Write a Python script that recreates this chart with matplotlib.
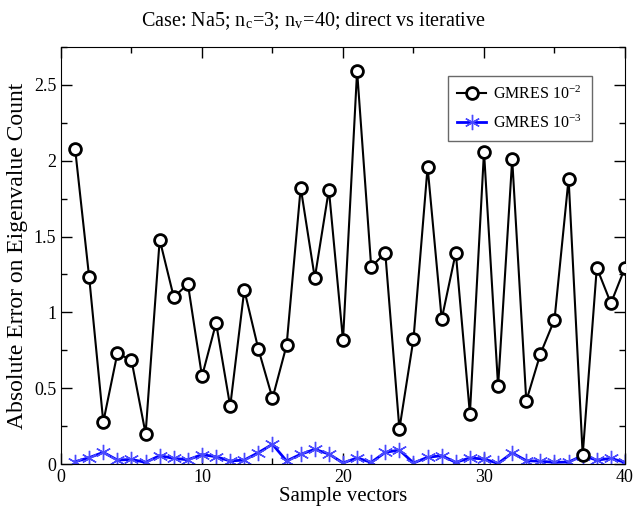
import matplotlib
matplotlib.use("Agg")
import matplotlib.pyplot as plt
from matplotlib.ticker import MultipleLocator

plt.rcParams['font.family'] = ['Liberation Serif', 'DejaVu Serif']
plt.rcParams['mathtext.fontset'] = 'stix'

x = list(range(1, 41))
gmres_1e2 = [2.08, 1.23, 0.277, 0.73, 0.684, 0.20, 1.48, 1.10, 1.187, 0.578,
             0.93, 0.38, 1.148, 0.757, 0.433, 0.783, 1.823, 1.227, 1.81, 0.816,
             2.592, 1.30, 1.392, 0.231, 0.825, 1.959, 0.956, 1.394, 0.33, 2.06,
             0.512, 2.01, 0.416, 0.726, 0.952, 1.882, 0.06, 1.295, 1.06, 1.295]
gmres_1e3 = [0.015, 0.042, 0.077, 0.026, 0.03, 0.011, 0.055, 0.037, 0.028, 0.062,
             0.048, 0.02, 0.026, 0.075, 0.13, 0.02, 0.064, 0.097, 0.066, 0.007,
             0.04, 0.011, 0.077, 0.092, 0.007, 0.044, 0.055, 0.011, 0.04, 0.033,
             0.004, 0.073, 0.022, 0.018, 0.011, 0.013, 0.055, 0.026, 0.037, 0.011]

fig = plt.figure(figsize=(6.34, 5.08), dpi=100)
ax = fig.add_axes([0.0962, 0.0866, 0.8896, 0.8209])

ax.plot(x, gmres_1e2, color='black', lw=1.5, marker='o', ms=8.5,
        mfc='white', mec='black', mew=2, label=r'GMRES 10$^{\mathregular{-2}}$', zorder=3)
ax.plot(x, gmres_1e3, color='#0000ff', lw=2, marker=(6, 2, 0), ms=11,
        mec='#4a4aff', mew=1, label=r'GMRES 10$^{\mathregular{-3}}$', zorder=2)

ax.set_xlim(0, 40)
ax.set_ylim(0, 2.75)
ax.xaxis.set_major_locator(MultipleLocator(10))
ax.xaxis.set_minor_locator(MultipleLocator(5))
ax.yaxis.set_minor_locator(MultipleLocator(0.25))
ax.set_yticks([0, 0.5, 1, 1.5, 2, 2.5])
ax.set_yticklabels(['0', '0.5', '1', '1.5', '2', '2.5'])
ax.tick_params(which='both', direction='in', top=True, right=True, labelsize=13)
ax.tick_params(which='major', length=8, width=1)
ax.tick_params(which='minor', length=4, width=1)

ax.set_xlabel('Sample vectors', fontsize=15, labelpad=1)
ax.set_ylabel('Absolute Error on Eigenvalue Count', fontsize=17, labelpad=4)
fig.text(0.494, 0.949, r'Case: Na5; n$_{\mathregular{c}}$=3; n$_{\mathregular{v}}$=40; direct vs iterative',
         fontsize=14.5, ha='center', va='baseline')

leg = ax.legend(loc='upper right', bbox_to_anchor=(0.941, 0.930), fontsize=11.5,
                frameon=True, fancybox=False, edgecolor='#444444', borderaxespad=0,
                handlelength=1.8, borderpad=0.6, labelspacing=0.7, handletextpad=0.45)
leg.get_frame().set_linewidth(1)

fig.savefig('out.png', dpi=100)
